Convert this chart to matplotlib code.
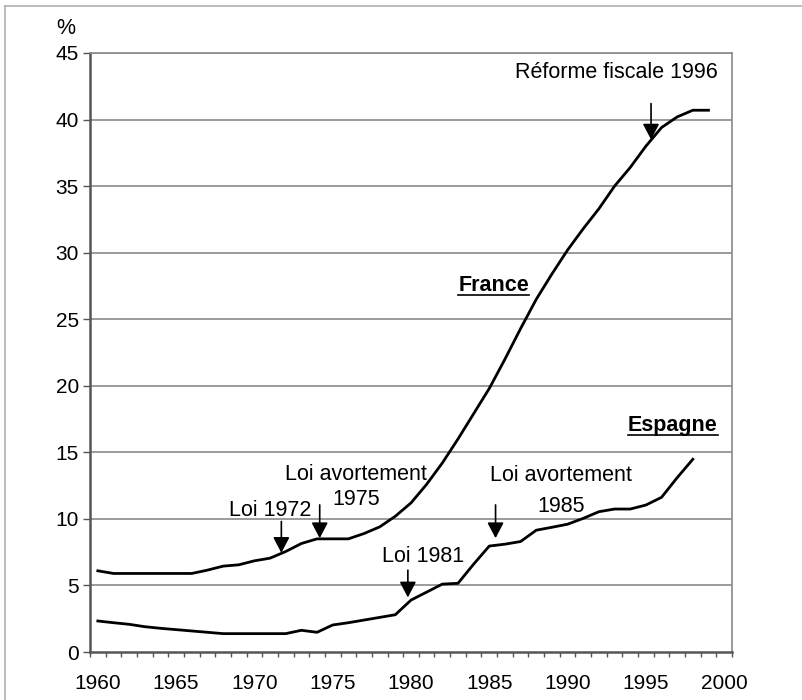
import matplotlib.pyplot as plt
import numpy as np
from matplotlib.lines import Line2D

plt.rcParams['font.family'] = ['Liberation Sans', 'DejaVu Sans']

# Data (share in %)
years_fr = list(range(1960, 2000))
france = [6.1, 5.9, 5.9, 5.9, 5.9, 5.9, 5.9, 6.15, 6.45, 6.55,
          6.85, 7.05, 7.55, 8.15, 8.5, 8.5, 8.5, 8.9, 9.4, 10.2,
          11.2, 12.6, 14.2, 16.0, 17.9, 19.8, 22.0, 24.3, 26.5, 28.4,
          30.2, 31.8, 33.3, 35.0, 36.4, 38.0, 39.4, 40.2, 40.7, 40.7]

years_es = list(range(1960, 1999))
espagne = [2.33, 2.2, 2.08, 1.9, 1.78, 1.68, 1.58, 1.48, 1.38, 1.38,
           1.38, 1.38, 1.38, 1.63, 1.48, 2.03, 2.2, 2.4, 2.6, 2.8,
           3.9, 4.5, 5.1, 5.16, 6.6, 7.96, 8.1, 8.3, 9.15, 9.37,
           9.6, 10.04, 10.54, 10.74, 10.74, 11.04, 11.62, 13.1, 14.48]

x_labels = list(range(1960, 2001, 5))
y_ticks = list(range(0, 46, 5))

# annotations: (text lines, text x, text y of each line, arrow x, arrow top, arrow tip)
notes = [
    (["Réforme fiscale 1996"], 1993.1, [43.5], 1995.33, 41.2, 38.5),
    (["Loi 1972"], 1971.0, [10.6], 1971.72, 9.8, 7.45),
    (["Loi avortement", "1975"], 1976.5, [13.35, 11.42], 1974.17, 11.05, 8.55),
    (["Loi 1981"], 1980.75, [7.14], 1979.8, 6.15, 4.1),
    (["Loi avortement", "1985"], 1989.6, [13.25, 10.92], 1985.4, 11.05, 8.55),
]

W, H = 803, 700
fig = plt.figure(figsize=(W / 100, H / 100), dpi=100)
ax = fig.add_axes([90 / W, 1 - 652 / H, (732 - 90) / W, (652 - 53) / H])

ax.plot(years_fr, france, color='black', lw=2.0, solid_joinstyle='round')
ax.plot(years_es, espagne, color='black', lw=2.0, solid_joinstyle='round')

ax.set_xlim(1959.5, 2000.5)
ax.set_ylim(0, 45)
ax.set_yticks(y_ticks)
ax.set_xticks(x_labels)
ax.set_xticks(np.arange(1959.5, 2000.6, 1), minor=True)
ax.tick_params(axis='x', which='major', length=0, pad=16, labelsize=15)
ax.tick_params(axis='x', which='minor', length=3.5, width=1, color='#555555', direction='out')
ax.tick_params(axis='y', length=5, width=1, color='#555555', pad=3, labelsize=15)

for y in y_ticks[1:]:
    ax.axhline(y, color='#8a8a8a', lw=1.2, zorder=0)

for side in ['top', 'right']:
    ax.spines[side].set_color('#8a8a8a')
    ax.spines[side].set_linewidth(1.2)
for side in ['left', 'bottom']:
    ax.spines[side].set_color('#555555')
    ax.spines[side].set_linewidth(1.8)

for lines, tx, tys, axx, top, tip in notes:
    for line, ty in zip(lines, tys):
        ax.text(tx, ty, line, ha='center', va='center', fontsize=15.5)
    ax.annotate('', xy=(axx, tip), xytext=(axx, top),
                arrowprops=dict(arrowstyle='-|>,head_length=0.95,head_width=0.5',
                                mutation_scale=10, color='black', lw=1.2,
                                shrinkA=0, shrinkB=0))

labels = [ax.text(1985.27, 27.57, 'France', ha='center', va='center',
                  fontsize=15.5, fontweight='bold'),
          ax.text(1996.73, 16.98, 'Espagne', ha='center', va='center',
                  fontsize=15.5, fontweight='bold')]

fig.text(65.5 / W, 1 - 28 / H, '%', ha='center', va='center', fontsize=15.5)

# underline the country labels
fig.canvas.draw()
renderer = fig.canvas.get_renderer()
for t in labels:
    bb = t.get_window_extent(renderer)
    yline = bb.y0 + 1
    fig.add_artist(Line2D([bb.x0 / W, bb.x1 / W], [yline / H, yline / H],
                          color='black', lw=1.2))

# frame of the picture: only left and top edges visible
fig.add_artist(Line2D([5 / W, 5 / W], [0, 1 - 6 / H], color='#b0b0b0', lw=1.2))
fig.add_artist(Line2D([5 / W, 1], [1 - 6 / H, 1 - 6 / H], color='#b0b0b0', lw=1.2))

fig.savefig('out.png', dpi=100)
